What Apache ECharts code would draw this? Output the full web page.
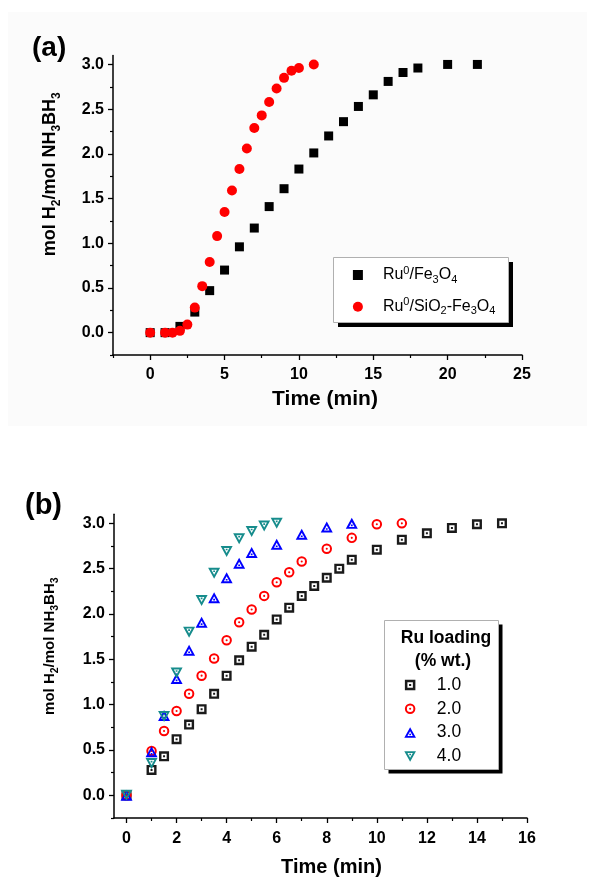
<!DOCTYPE html>
<html>
<head>
<meta charset="utf-8">
<script src="https://cdn.jsdelivr.net/npm/echarts@6/dist/echarts.min.js"></script>
<style>
  html, body { margin: 0; padding: 0; background: #fff; }
  #chart { width: 595px; height: 878px; }
</style>
</head>
<body>
<div id="chart"></div>
<script>
// ---- Panel (a): H2 evolved vs time for the two magnetic catalysts ----
const timeFe3O4 = [0, 1, 2, 3, 4, 5, 6, 7, 8, 9, 10, 11, 12, 13, 14, 15, 16, 17, 18, 20, 22];
const h2Fe3O4   = [0, 0, 0.07, 0.23, 0.47, 0.70, 0.96, 1.17, 1.41, 1.61, 1.83, 2.01, 2.20, 2.36, 2.53, 2.66, 2.81, 2.91, 2.96, 3.0, 3.0];
const timeSiO2  = [0, 1, 1.5, 2, 2.5, 3, 3.5, 4, 4.5, 5, 5.5, 6, 6.5, 7, 7.5, 8, 8.5, 9, 9.5, 10, 11];
const h2SiO2    = [0, 0, 0, 0.02, 0.09, 0.28, 0.52, 0.79, 1.08, 1.35, 1.59, 1.83, 2.06, 2.29, 2.43, 2.58, 2.73, 2.85, 2.93, 2.96, 3.0];

// ---- Panel (b): effect of Ru loading (% wt.) ----
const loadingLabels = ['1.0', '2.0', '3.0', '4.0'];
const time1 = [0, 1, 1.5, 2, 2.5, 3, 3.5, 4, 4.5, 5, 5.5, 6, 6.5, 7, 7.5, 8, 8.5, 9, 10, 11, 12, 13, 14, 15];
const h2_1  = [0, 0.28, 0.43, 0.62, 0.78, 0.95, 1.12, 1.32, 1.49, 1.64, 1.77, 1.94, 2.07, 2.20, 2.31, 2.40, 2.50, 2.60, 2.71, 2.82, 2.89, 2.95, 2.99, 3.0];
const time2 = [0, 1, 1.5, 2, 2.5, 3, 3.5, 4, 4.5, 5, 5.5, 6, 6.5, 7, 8, 9, 10, 11];
const h2_2  = [0, 0.49, 0.71, 0.93, 1.12, 1.32, 1.51, 1.71, 1.91, 2.05, 2.20, 2.35, 2.46, 2.58, 2.72, 2.84, 2.99, 3.0];
const time3 = [0, 1, 1.5, 2, 2.5, 3, 3.5, 4, 4.5, 5, 6, 7, 8, 9];
const h2_3  = [0, 0.48, 0.88, 1.29, 1.60, 1.91, 2.18, 2.40, 2.56, 2.68, 2.77, 2.88, 2.96, 3.0];
const time4 = [0, 1, 1.5, 2, 2.5, 3, 3.5, 4, 4.5, 5, 5.5, 6];
const h2_4  = [0, 0.35, 0.87, 1.35, 1.80, 2.15, 2.45, 2.69, 2.83, 2.91, 2.97, 3.0];

// ---- Tick values ----
const xMajorA = [0, 5, 10, 15, 20, 25];
const xMinorA = [-2.5, 2.5, 7.5, 12.5, 17.5, 22.5];
const xMajorB = [0, 2, 4, 6, 8, 10, 12, 14, 16];
const xMinorB = [1, 3, 5, 7, 9, 11, 13, 15];
const yMajor  = [0, 0.5, 1.0, 1.5, 2.0, 2.5, 3.0];
const yMinor  = [-0.25, 0.25, 0.75, 1.25, 1.75, 2.25, 2.75];

const FONT = 'Liberation Sans, Arial, sans-serif';
const nameA1 = 'Ru0/Fe3O4';
const nameA2 = 'Ru0/SiO2-Fe3O4';

// solid square (path keeps its aspect in the legend)
const SYM_FILLED_SQUARE = 'path://M0 0L20 0L20 20L0 20Z';
// open markers with a centre dot (outer contour clockwise, hole counter-clockwise)
const SYM_SQUARE = 'path://M0 0L20 0L20 20L0 20ZM4.8 4.8L4.8 15.2L15.2 15.2L15.2 4.8ZM8 8L12 8L12 12L8 12Z';
const SYM_CIRCLE = 'path://M10 0A10 10 0 1 1 10 20A10 10 0 1 1 10 0ZM10 3.8A6.2 6.2 0 1 0 10 16.2A6.2 6.2 0 1 0 10 3.8ZM10 8A2 2 0 1 1 10 12A2 2 0 1 1 10 8Z';
const SYM_UP   = 'path://M10 0L20 18L0 18ZM10 6.6L5.4 14.8L14.6 14.8ZM8.5 10.9L11.5 10.9L11.5 13.6L8.5 13.6Z';
const SYM_DOWN = 'path://M0 0L20 0L10 18ZM5.4 3.2L10 11.4L14.6 3.2ZM8.5 4.4L11.5 4.4L11.5 7.1L8.5 7.1Z';

const zip = (xs, ys) => xs.map((x, i) => [x, ys[i]]);

const yTitle = '{b|mol H}{s|2}{b|/mol NH}{s|3}{b|BH}{s|3}';
function titleRich(size, sub) {
  return {
    b: { fontFamily: FONT, fontWeight: 'bold', fontSize: size, lineHeight: size + 8, color: '#000' },
    s: { fontFamily: FONT, fontWeight: 'bold', fontSize: sub, lineHeight: sub, verticalAlign: 'bottom', color: '#000' }
  };
}

function majorXAxis(grid, min, max, step, majors, labelMargin, extra) {
  return Object.assign({
    type: 'value', gridIndex: grid, min: min, max: max, interval: step, position: 'bottom',
    axisLine: { show: true, onZero: false, lineStyle: { color: '#000', width: 1.5 } },
    axisTick: { show: true, inside: false, length: 5, lineStyle: { color: '#000', width: 1.3 }, customValues: majors },
    axisLabel: { show: true, customValues: majors, margin: labelMargin, color: '#000', fontFamily: FONT, fontWeight: 'bold', fontSize: 16 },
    splitLine: { show: false }
  }, extra);
}
function minorXAxis(grid, min, max, step, minors) {
  return {
    type: 'value', gridIndex: grid, min: min, max: max, interval: step, position: 'bottom',
    axisLine: { show: false, onZero: false },
    axisTick: { show: true, inside: false, length: 3, lineStyle: { color: '#000', width: 1.2 }, customValues: minors },
    axisLabel: { show: false }, splitLine: { show: false }
  };
}
function majorYAxis(grid, extra) {
  return Object.assign({
    type: 'value', gridIndex: grid, min: -0.25, max: 3.1, interval: 0.25, position: 'left',
    axisLine: { show: true, onZero: false, lineStyle: { color: '#000', width: 1.5 } },
    axisTick: { show: true, inside: false, length: 5, lineStyle: { color: '#000', width: 1.3 }, customValues: yMajor },
    axisLabel: { show: true, customValues: yMajor, margin: 9, color: '#000', fontFamily: FONT, fontWeight: 'bold', fontSize: 16,
      formatter: v => v.toFixed(1) },
    splitLine: { show: false }
  }, extra);
}
function minorYAxis(grid) {
  return {
    type: 'value', gridIndex: grid, min: -0.25, max: 3.1, interval: 0.25, position: 'left',
    axisLine: { show: false, onZero: false },
    axisTick: { show: true, inside: false, length: 3, lineStyle: { color: '#000', width: 1.2 }, customValues: yMinor },
    axisLabel: { show: false }, splitLine: { show: false }
  };
}

const chart = echarts.init(document.getElementById('chart'), null, { renderer: 'canvas' });

chart.setOption({
  backgroundColor: '#fff',
  animation: false,
  grid: [
    { left: 113, top: 55.5, width: 409, height: 299.5 },
    { left: 114, top: 514.3, width: 413, height: 305.8 }
  ],
  xAxis: [
    majorXAxis(0, -2.5, 25, 2.5, xMajorA, 12, {
      name: 'Time (min)', nameLocation: 'middle', nameGap: 34,
      nameTextStyle: { fontFamily: FONT, fontWeight: 'bold', fontSize: 21, color: '#000', padding: [0, 0, 0, 15] }
    }),
    minorXAxis(0, -2.5, 25, 2.5, xMinorA),
    majorXAxis(1, -0.5, 16, 0.5, xMajorB, 13, {
      name: 'Time (min)', nameLocation: 'middle', nameGap: 39,
      nameTextStyle: { fontFamily: FONT, fontWeight: 'bold', fontSize: 20, color: '#000', padding: [0, 0, 0, 22] }
    }),
    minorXAxis(1, -0.5, 16, 0.5, xMinorB)
  ],
  yAxis: [
    majorYAxis(0, {
      name: yTitle, nameLocation: 'middle', nameRotate: 90, nameGap: 50,
      nameTextStyle: { fontFamily: FONT, fontWeight: 'bold', fontSize: 18, color: '#000', padding: [0, 0, 0, 62], rich: titleRich(18, 12) }
    }),
    minorYAxis(0),
    majorYAxis(1, {
      name: yTitle, nameLocation: 'middle', nameRotate: 90, nameGap: 53,
      nameTextStyle: { fontFamily: FONT, fontWeight: 'bold', fontSize: 15, color: '#000', padding: [0, 0, 0, 40], rich: titleRich(15, 10.5) }
    }),
    minorYAxis(1)
  ],
  legend: [
    {
      data: [nameA1, nameA2], orient: 'vertical', left: 352.9, top: 265, itemWidth: 40, itemHeight: 10, itemGap: 11.7,
      selectedMode: false, padding: 0,
      formatter: n => n === nameA1
        ? '{t|Ru}{sup|0}{t|/Fe}{sub|3}{t|O}{sub|4}'
        : '{t|Ru}{sup|0}{t|/SiO}{sub|2}{t|-Fe}{sub|3}{t|O}{sub|4}',
      textStyle: {
        fontFamily: FONT, fontSize: 16, color: '#000',
        rich: {
          t: { fontFamily: FONT, fontSize: 16, lineHeight: 20, color: '#000' },
          sup: { fontFamily: FONT, fontSize: 11, lineHeight: 11, verticalAlign: 'top', color: '#000' },
          sub: { fontFamily: FONT, fontSize: 11, lineHeight: 11, verticalAlign: 'bottom', color: '#000' }
        }
      }
    },
    {
      data: loadingLabels, orient: 'vertical', left: 404.3, top: 675, itemWidth: 43.4, itemHeight: 10.5, itemGap: 3.8,
      selectedMode: false, padding: 0,
      textStyle: { fontFamily: FONT, fontSize: 17.5, lineHeight: 20, color: '#000' }
    }
  ],
  graphic: [
    { type: 'rect', z: -10, silent: true, shape: { x: 8, y: 12, width: 579, height: 414 }, style: { fill: '#fbfbfb' } },
    { type: 'text', style: { x: 32, y: 48, text: '(a)', fontFamily: FONT, fontWeight: 'bold', fontSize: 28, fill: '#000', textVerticalAlign: 'middle' } },
    { type: 'text', style: { x: 25, y: 506, text: '(b)', fontFamily: FONT, fontWeight: 'bold', fontSize: 29, fill: '#000', textVerticalAlign: 'middle' } },
    // legend frames with a hard drop shadow
    { type: 'rect', z: 3, shape: { x: 338, y: 262, width: 175, height: 65 }, style: { fill: '#000' } },
    { type: 'rect', z: 3, shape: { x: 333.5, y: 257.5, width: 175, height: 65 }, style: { fill: '#fff', stroke: '#b0b0b0', lineWidth: 1 } },
    { type: 'rect', z: 3, shape: { x: 388.5, y: 624.5, width: 114, height: 149 }, style: { fill: '#000' } },
    { type: 'rect', z: 3, shape: { x: 384.5, y: 620.5, width: 114, height: 149 }, style: { fill: '#fff', stroke: '#b0b0b0', lineWidth: 1 } },
    { type: 'text', z: 4, style: { x: 446, y: 638, text: 'Ru loading', fontFamily: FONT, fontWeight: 'bold', fontSize: 17.5, fill: '#000', textAlign: 'center', textVerticalAlign: 'middle' } },
    { type: 'text', z: 4, style: { x: 443, y: 661.5, text: '(% wt.)', fontFamily: FONT, fontWeight: 'bold', fontSize: 17.5, fill: '#000', textAlign: 'center', textVerticalAlign: 'middle' } }
  ],
  series: [
    { name: nameA1, type: 'scatter', xAxisIndex: 0, yAxisIndex: 0, symbol: SYM_FILLED_SQUARE, symbolSize: 9,
      itemStyle: { color: '#000', opacity: 1 }, data: zip(timeFe3O4, h2Fe3O4) },
    { name: nameA2, type: 'scatter', xAxisIndex: 0, yAxisIndex: 0, symbol: 'circle', symbolSize: 10,
      itemStyle: { color: '#ff0000', opacity: 1 }, data: zip(timeSiO2, h2SiO2) },
    { name: loadingLabels[0], type: 'scatter', xAxisIndex: 2, yAxisIndex: 2, symbol: SYM_SQUARE, symbolSize: 10,
      itemStyle: { color: '#1a1a1a', opacity: 1 }, data: zip(time1, h2_1) },
    { name: loadingLabels[1], type: 'scatter', xAxisIndex: 2, yAxisIndex: 2, symbol: SYM_CIRCLE, symbolSize: 10.5,
      itemStyle: { color: '#ff0000', opacity: 1 }, data: zip(time2, h2_2) },
    { name: loadingLabels[2], type: 'scatter', xAxisIndex: 2, yAxisIndex: 2, symbol: SYM_UP, symbolSize: [12, 11],
      itemStyle: { color: '#0000ff', opacity: 1 }, data: zip(time3, h2_3) },
    { name: loadingLabels[3], type: 'scatter', xAxisIndex: 2, yAxisIndex: 2, symbol: SYM_DOWN, symbolSize: [12, 11],
      itemStyle: { color: '#168c8c', opacity: 1 }, data: zip(time4, h2_4) }
  ]
});
</script>
</body>
</html>
